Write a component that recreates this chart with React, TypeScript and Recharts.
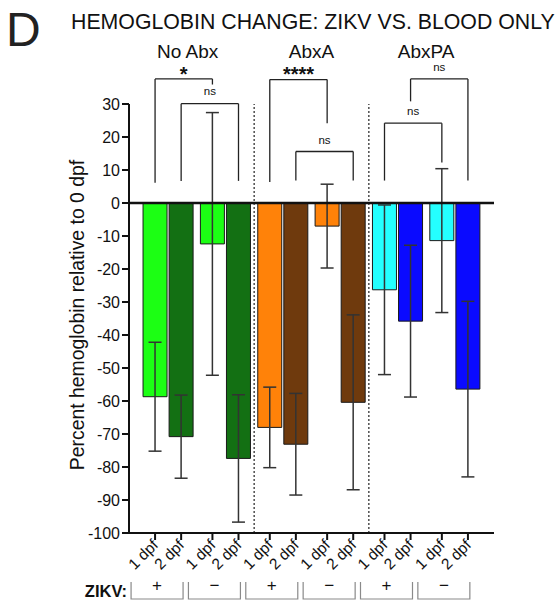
import React from 'react';
import {
  ComposedChart,
  Bar,
  XAxis,
  YAxis,
  ErrorBar,
  Cell,
  ReferenceLine,
  ReferenceDot,
} from 'recharts';

// ---- data ----
const categories = ['1 dpf', '2 dpf', '1 dpf', '2 dpf', '1 dpf', '2 dpf', '1 dpf', '2 dpf', '1 dpf', '2 dpf', '1 dpf', '2 dpf'];
const zikvStatus = ['+', '\u2212', '+', '\u2212', '+', '\u2212'];
const groupNames = ['No Abx', 'AbxA', 'AbxPA'];
const values = [-58.7, -70.8, -12.4, -77.4, -68.0, -73.1, -7.0, -60.4, -26.3, -35.8, -11.4, -56.4];
const errors = [16.5, 12.6, 39.8, 19.3, 12.2, 15.4, 12.7, 26.5, 25.7, 23.0, 21.8, 26.6];
const barColors = ['#1cff14', '#137013', '#1cff14', '#137013', '#ff8209', '#6f3a0d', '#ff8209', '#6f3a0d', '#24ffff', '#0a0aff', '#24ffff', '#0a0aff'];
const yTicks = [30, 20, 10, 0, -10, -20, -30, -40, -50, -60, -70, -80, -90, -100];

// significance brackets: bar indexes, bracket top, leg ends, label
const brackets = [
  { from: 0, to: 2, top: 37.6, leftEnd: 6.1, rightEnd: 35.9, label: '*', labelY: 37.1 },
  { from: 1, to: 3, top: 30.1, leftEnd: 6.7, rightEnd: 6.7, label: 'ns', labelY: 32.6 },
  { from: 4, to: 6, top: 37.4, leftEnd: 6.4, rightEnd: 24.2, label: '****', labelY: 37.1 },
  { from: 5, to: 7, top: 15.6, leftEnd: 6.8, rightEnd: 6.8, label: 'ns', labelY: 17.9 },
  { from: 9, to: 11, top: 37.6, leftEnd: 30.8, rightEnd: 6.8, label: 'ns', labelY: 39.9 },
  { from: 8, to: 10, top: 24.2, leftEnd: 6.8, rightEnd: 12.3, label: 'ns', labelY: 26.6 },
];

// layout helpers: bars in pairs, with a small extra gap between pairs
const pos = (i: number) => i + Math.floor(i / 2) * 0.2;
const positions = categories.map((_, i) => pos(i));
const data = categories.map((c, i) => ({ x: positions[i], value: values[i], err: errors[i], label: c }));
const separators = [(pos(3) + pos(4)) / 2, (pos(7) + pos(8)) / 2];
const groupCenters = [1.25, (pos(4) + pos(7)) / 2, (pos(8) + pos(11)) / 2];

const FONT = '"Liberation Sans", Arial, Helvetica, sans-serif';

const XTick = (props: any) => {
  const { x, y, payload } = props;
  const i = positions.findIndex((p) => Math.abs(p - payload.value) < 1e-6);
  if (i < 0) return null;
  return (
    <g>
      <text
        transform={`translate(${x + 4},${y + 4}) rotate(-45)`}
        textAnchor="end"
        fontSize={15.5}
        fill="#111"
        fontFamily={FONT}
      >
        {categories[i]}
      </text>
      {i % 2 === 0 && (
        <g>
          <path
            d={`M${x - 24},${y + 40} V${y + 57} H${x + 28} V${y + 40}`}
            fill="none"
            stroke="#8a8a8a"
            strokeWidth={1.2}
          />
          <text x={x + 2} y={y + 49} textAnchor="middle" fontSize={17} fill="#111" fontFamily={FONT}>
            {zikvStatus[i / 2]}
          </text>
        </g>
      )}
    </g>
  );
};

const TextShape = (text: string, size: number, bold: boolean) => (p: any) => (
  <text x={p.cx} y={p.cy} textAnchor="middle" fontSize={size} fontWeight={bold ? 'bold' : 'normal'} fill="#111" fontFamily={FONT}>
    {text}
  </text>
);

export default function App() {
  return (
    <div style={{ position: 'absolute', left: 0, top: 0, width: 559, height: 604, background: '#fff', fontFamily: FONT }}>
      <ComposedChart width={559} height={604} data={data} margin={{ top: 104, right: 65, bottom: 0, left: 0 }}>
        <XAxis
          type="number"
          dataKey="x"
          domain={[-1, 13]}
          ticks={positions}
          interval={0}
          tick={<XTick />}
          tickSize={7}
          tickMargin={2}
          height={71}
          axisLine={{ stroke: '#111', strokeWidth: 2 }}
          tickLine={{ stroke: '#111', strokeWidth: 2 }}
          allowDataOverflow
        />
        <YAxis
          type="number"
          domain={[-100, 30]}
          ticks={yTicks}
          interval={0}
          width={129}
          tickSize={7}
          tickMargin={2}
          tick={{ fontSize: 16, fill: '#111', fontFamily: FONT }}
          axisLine={{ stroke: '#111', strokeWidth: 2 }}
          tickLine={{ stroke: '#111', strokeWidth: 2 }}
          allowDataOverflow
        />
        {separators.map((s, k) => (
          <ReferenceLine key={'sep' + k} x={s} stroke="#222" strokeWidth={1.2} strokeDasharray="2 2" />
        ))}
        <Bar dataKey="value" barSize={24} isAnimationActive={false} stroke="#1a1a1a" strokeWidth={1}>
          {data.map((d, i) => (
            <Cell key={i} fill={barColors[i]} />
          ))}
          <ErrorBar dataKey="err" direction="y" width={6.5} stroke="#333" strokeWidth={1.5} />
        </Bar>
        <ReferenceLine y={0} stroke="#111" strokeWidth={2.5} />
        {brackets.map((b, k) => {
          const x1 = positions[b.from];
          const x2 = positions[b.to];
          return [
            <ReferenceLine key={'bh' + k} ifOverflow="visible" segment={[{ x: x1, y: b.top }, { x: x2, y: b.top }]} stroke="#222" strokeWidth={1.3} />,
            <ReferenceLine key={'bl' + k} ifOverflow="visible" segment={[{ x: x1, y: b.top }, { x: x1, y: b.leftEnd }]} stroke="#222" strokeWidth={1.3} />,
            <ReferenceLine key={'br' + k} ifOverflow="visible" segment={[{ x: x2, y: b.top }, { x: x2, y: b.rightEnd }]} stroke="#222" strokeWidth={1.3} />,
            <ReferenceDot
              key={'bt' + k}
              x={(x1 + x2) / 2}
              y={b.labelY}
              r={0}
              ifOverflow="visible"
              shape={TextShape(b.label, b.label === 'ns' ? 11.5 : 20, b.label !== 'ns')}
            />,
          ];
        })}
        {groupNames.map((g, k) => (
          <ReferenceDot key={'g' + k} x={groupCenters[k]} y={43.9} r={0} ifOverflow="visible" shape={TextShape(g, 19, false)} />
        ))}
      </ComposedChart>
      <svg width={559} height={604} style={{ position: 'absolute', left: 0, top: 0, pointerEvents: 'none' }}>
        <text x={6} y={46} fontSize={48} fill="#222" fontFamily={FONT}>D</text>
        <text x={71} y={28.5} fontSize={21.3} fill="#111" fontFamily={FONT}>HEMOGLOBIN CHANGE: ZIKV VS. BLOOD ONLY</text>
        <text x={84} y={315} fontSize={19.4} fill="#111" textAnchor="middle" transform="rotate(-90, 84, 315)" fontFamily={FONT}>
          Percent hemoglobin relative to 0 dpf
        </text>
        <text x={127} y={597} fontSize={16.5} fontWeight="bold" fill="#111" textAnchor="end" fontFamily={FONT}>ZIKV:</text>
      </svg>
    </div>
  );
}
